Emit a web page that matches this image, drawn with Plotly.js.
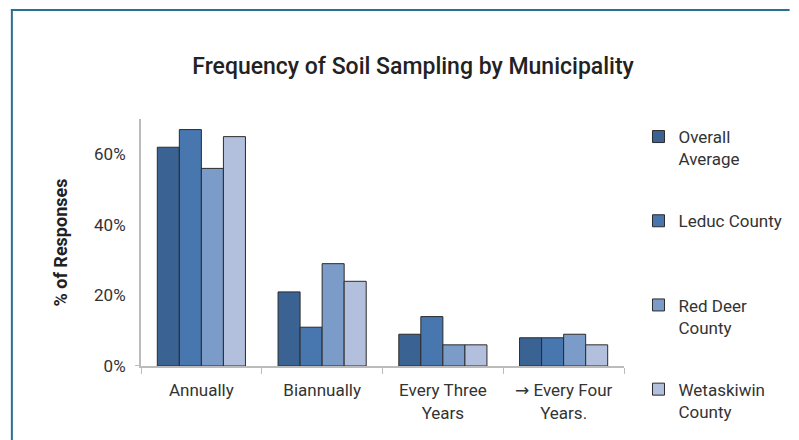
<!DOCTYPE html>
<html><head><meta charset="utf-8">
<script src="https://cdn.plot.ly/plotly-3.0.1.min.js"></script>
<style>body{margin:0;background:#fff}#c{width:799px;height:440px}</style>
</head><body><div id="c"></div>
<script>
const categories = ["Annually", "Biannually", "Every Three<br>Years", "→ Every Four<br>Years."];
const seriesNames = ["Overall<br>Average", "Leduc County<br> ", "Red Deer<br>County", "Wetaskiwin<br>County"];
const overallAverage = [62, 21, 9, 8];
const leducCounty = [67, 11, 14, 8];
const redDeerCounty = [56, 29, 6, 9];
const wetaskiwinCounty = [65, 24, 6, 6];
const yTickValues = [0, 20, 40, 60];
const yTickLabels = ["0%", "20%", "40%", "60%"];

const colors = ["#3a6394", "#4877b0", "#7b9cc9", "#b2bfdd"];
const seriesValues = [overallAverage, leducCounty, redDeerCounty, wetaskiwinCounty];
const font = "Roboto, 'DejaVu Sans', sans-serif";

const traces = seriesValues.map((vals, i) => ({
  type: "bar",
  x: categories,
  y: vals,
  name: seriesNames[i],
  legendgroup: "g" + i,
  marker: {color: colors[i], line: {color: "#2b2b2b", width: 1}},
  hoverinfo: "y"
}));

const layout = {
  width: 799, height: 440,
  margin: {l: 141, r: 168, t: 119, b: 74},
  paper_bgcolor: "#fff", plot_bgcolor: "#fff",
  barmode: "group", bargap: 0.27, bargroupgap: 0,
  title: {text: "Frequency of Soil Sampling by Municipality", x: 0.517, xanchor: "center", y: 0.85, yanchor: "middle",
    font: {family: "Roboto, sans-serif", size: 23, color: "#222", weight: 500}},
  xaxis: {
    showline: true, linecolor: "#bbbbbb", linewidth: 2,
    ticks: "outside", tickson: "boundaries", ticklen: 6, tickcolor: "#bbbbbb", tickwidth: 1,
    tickfont: {family: font, size: 17, color: "#333"}, ticklabelstandoff: 8,
    showgrid: false, zeroline: false
  },
  yaxis: {
    range: [0, 70], showline: true, linecolor: "#bbbbbb", linewidth: 2,
    tickvals: yTickValues, ticktext: yTickLabels,
    tickfont: {family: font, size: 17, color: "#333"},
    ticks: "", ticklabelstandoff: 10,
    showgrid: false, zeroline: false,
    title: {text: "<b>% of Responses</b>", standoff: 22, font: {family: "Roboto, 'DejaVu Sans', sans-serif", size: 18, color: "#222"}}
  },
  legend: {
    x: 1.03, xanchor: "left", y: 1.0, yanchor: "top",
    font: {family: font, size: 17, color: "#333"},
    tracegroupgap: 37, valign: "top", itemwidth: 30, maxheight: 440,
    bgcolor: "rgba(0,0,0,0)"
  },
  shapes: [
    {type: "line", xref: "paper", yref: "paper", x0: (9 - 141) / 490, x1: (799 - 141) / 490, y0: (366 - 10) / 247, y1: (366 - 10) / 247, line: {color: "#2a7090", width: 2}},
    {type: "line", xref: "paper", yref: "paper", x0: (10 - 141) / 490, x1: (10 - 141) / 490, y0: (366 - 9) / 247, y1: (366 - 445) / 247, line: {color: "#2a7090", width: 2}},
    {type: "line", xref: "paper", yref: "y", x0: (135 - 141) / 490, x1: 0, y0: 0, y1: 0, line: {color: "#bbbbbb", width: 2}}
  ],
  showlegend: true
};

Plotly.newPlot("c", traces, layout, {displayModeBar: false, staticPlot: true});
</script>
</body></html>
